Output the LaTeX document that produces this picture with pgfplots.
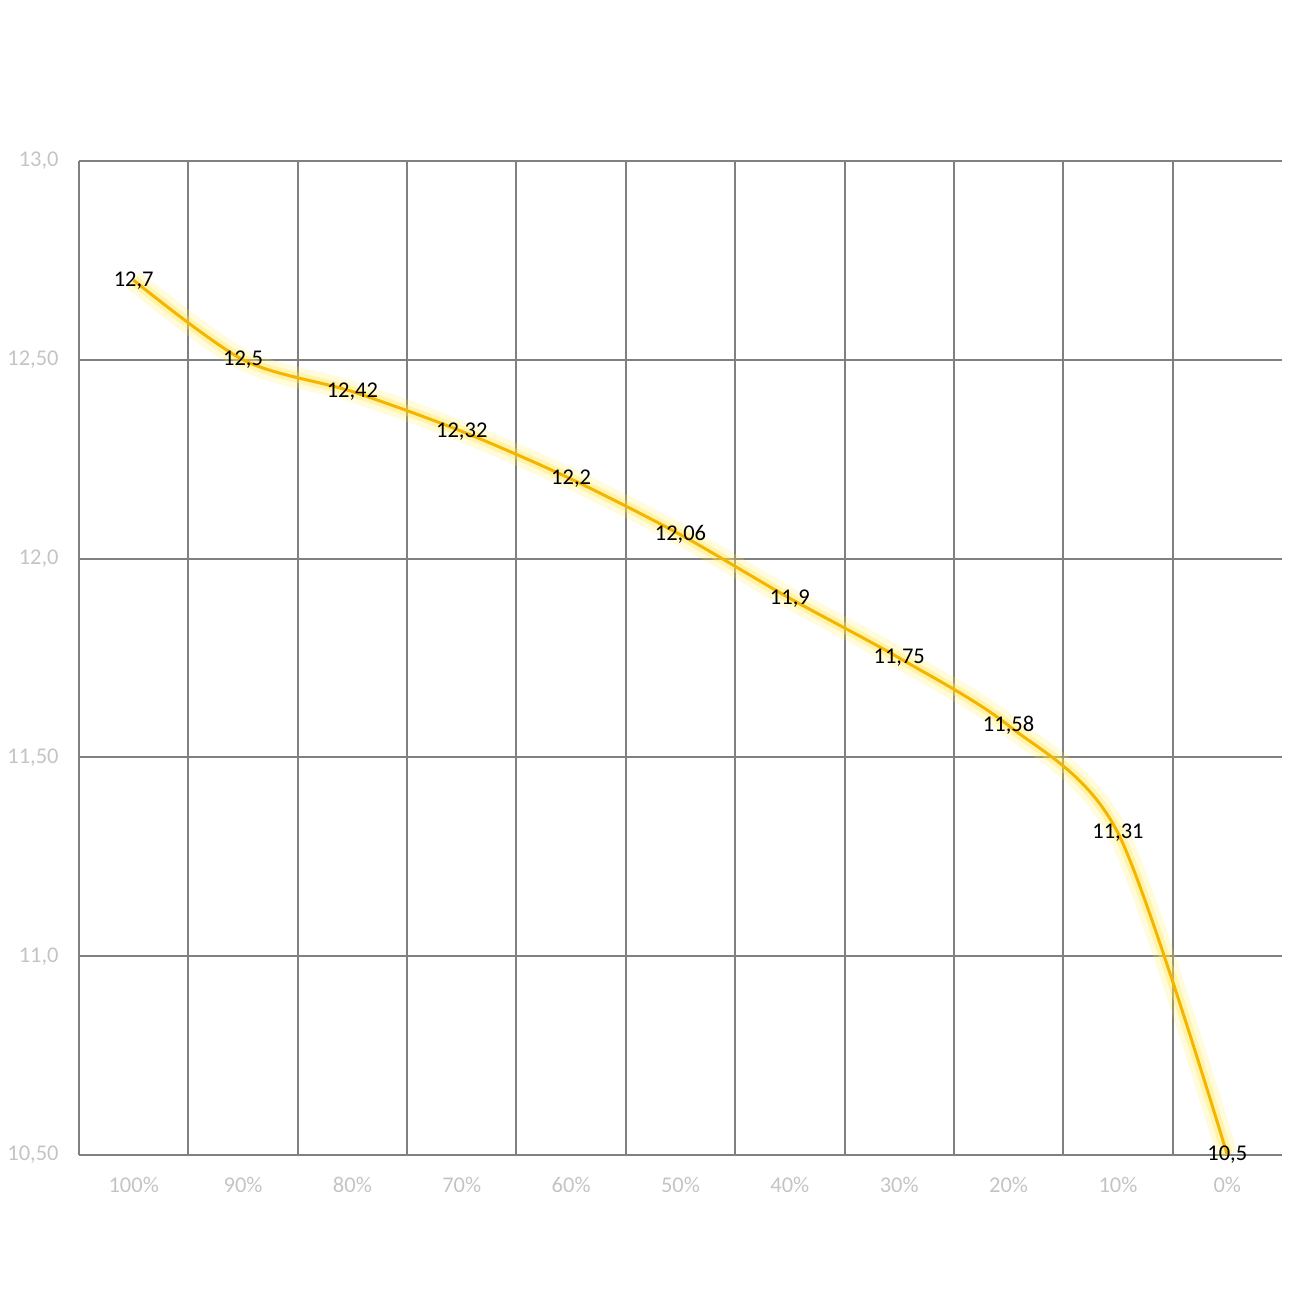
\documentclass[border=0pt]{standalone}
\usepackage{fontspec}
\setmainfont{Carlito}
\usepackage{pgfplots}
\pgfplotsset{compat=1.18}

\definecolor{gridgray}{HTML}{808080}
\definecolor{ticklbl}{HTML}{C4C4C4}
\definecolor{linegold}{HTML}{F5B400}
\definecolor{glow}{HTML}{FFE94D}

\begin{document}
\begin{tikzpicture}
\useasboundingbox (0,0) rectangle (12.99cm,12.99cm);
\begin{axis}[
    at={(0.79cm,1.44cm)}, anchor=south west,
    scale only axis,
    width=12.03cm, height=9.94cm,
    xmin=-0.5, xmax=10.5,
    ymin=10.5, ymax=13.0,
    axis lines=left,
    axis line style={-, draw=gridgray, line width=0.55pt},
    xtick={0,...,10},
    xticklabels={100\%,90\%,80\%,70\%,60\%,50\%,40\%,30\%,20\%,10\%,0\%},
    minor xtick={0.5,1.5,...,9.5},
    major tick length=0pt, minor tick length=0pt,
    xminorgrids=true,
    ytick={10.5,11,11.5,12,12.5,13},
    yticklabels={{10,50},{11,0},{11,50},{12,0},{12,50},{13,0}},
    ymajorgrids=true,
    grid style={draw=gridgray, line width=0.55pt},
    minor grid style={draw=gridgray, line width=0.55pt},
    tick label style={font=\fontsize{6.4}{7}\selectfont, text=ticklbl},
    xticklabel style={yshift=-0.1cm},
    yticklabel style={xshift=-0.08cm},
    clip=false,
]
% glow
\addplot[smooth, tension=0.5, draw=glow, opacity=0.2, line width=6pt] coordinates {
 (0,12.7)(1,12.5)(2,12.42)(3,12.32)(4,12.2)(5,12.06)(6,11.9)(7,11.75)(8,11.58)(9,11.31)(10,10.5)};
\addplot[smooth, tension=0.5, draw=glow, opacity=0.35, line width=3pt] coordinates {
 (0,12.7)(1,12.5)(2,12.42)(3,12.32)(4,12.2)(5,12.06)(6,11.9)(7,11.75)(8,11.58)(9,11.31)(10,10.5)};
% line with labels
\addplot[smooth, tension=0.5, draw=linegold, line width=0.85pt,
    nodes near coords, point meta=explicit symbolic,
    every node near coord/.style={anchor=center, font=\fontsize{6.4}{7}\selectfont, text=black}]
 coordinates {
 (0,12.7)[12,7] (1,12.5)[12,5] (2,12.42)[12,42] (3,12.32)[12,32] (4,12.2)[12,2]
 (5,12.06)[12,06] (6,11.9)[11,9] (7,11.75)[11,75] (8,11.58)[11,58]
 (9,11.31)[11,31] (10,10.5)[10,5]};
\end{axis}
\end{tikzpicture}
\end{document}
